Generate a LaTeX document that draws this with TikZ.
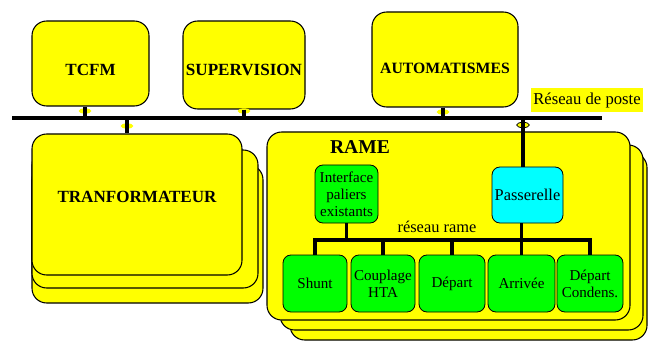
\documentclass[tikz,border=0pt]{standalone}
\usepackage{fontspec}
\setmainfont{Liberation Serif}
\usetikzlibrary{shapes.geometric}
\definecolor{boxyellow}{RGB}{255,255,0}
\definecolor{boxgreen}{RGB}{0,255,0}
\definecolor{boxcyan}{RGB}{0,255,255}

\begin{document}
\begin{tikzpicture}[x=0.75pt, y=-0.75pt,
    bigbox/.style={draw, line width=0.8pt, fill=boxyellow, rounded corners=11pt, inner sep=1pt,
        font=\bfseries\fontsize{12.8}{15}\selectfont},
    smallbox/.style={draw, line width=0.6pt, fill=boxgreen, rounded corners=6pt, align=center,
        inner sep=1pt, minimum height=42.75pt, font=\fontsize{11.3}{12.75}\selectfont},
    tap/.style={ellipse, fill=boxyellow, minimum width=9.5pt, minimum height=4pt, inner sep=0pt},
    bus/.style={line width=3.5pt},
    link/.style={line width=2.5pt},
    ]
    \useasboundingbox (0,0) rectangle (653,342);

    \node[bigbox, minimum width=87.75pt, minimum height=63.75pt, text height=17.8pt, text depth=0pt] (tcfm) at (90.5,63.5) {TCFM};
    \node[bigbox, minimum width=91.5pt, minimum height=66pt, text height=15.5pt, text depth=0pt] (super) at (244,65) {SUPERVISION};
    \node[bigbox, minimum width=109.5pt, minimum height=71.25pt, text height=21.5pt, text depth=0pt,
        font=\bfseries\fontsize{11.8}{14}\selectfont] (auto) at (445,59.5) {AUTOMATISMES};

    \node[bigbox, minimum width=173.25pt, minimum height=103.5pt] (transfo-b2) at (147.5,234) {};
    \node[bigbox, minimum width=169.5pt, minimum height=103.5pt] (transfo-b1) at (145,219) {};
    \node[bigbox, minimum width=157.5pt, minimum height=105.75pt, text height=8pt, text depth=11.2pt] (transfo) at (137,204.5) {TRANFORMATEUR};

    \node[bigbox, minimum width=267.75pt, minimum height=140.25pt] (rame-b2) at (468.5,246.5) {};
    \node[bigbox, minimum width=272.25pt, minimum height=138.75pt] (rame-b1) at (461.5,237.5) {};
    \node[bigbox, minimum width=272.25pt, minimum height=141pt] (rame) at (448.5,226) {};
    \node[font=\bfseries\fontsize{14.7}{17}\selectfont] (rame-title) at (360,147) {RAME};

    \node[smallbox, minimum width=47.25pt, minimum height=43.5pt] (iface) at (346.5,194) {Interface\\paliers\\existants};
    \node[smallbox, fill=boxcyan, minimum width=53.25pt, minimum height=42pt,
        font=\fontsize{12.3}{14}\selectfont] (pass) at (527.5,195) {Passerelle};
    \node[font=\fontsize{12.3}{14}\selectfont] (rr-label) at (437,227) {réseau rame};

    \node[smallbox, minimum width=48pt] (shunt) at (315,283.5) {Shunt};
    \node[smallbox, minimum width=48pt] (coupl) at (383,283.5) {Couplage\\HTA};
    \node[smallbox, minimum width=49.5pt] (depart) at (452,283.5) {Départ};
    \node[smallbox, minimum width=50.25pt] (arriv) at (521.5,283.5) {Arrivée};
    \node[smallbox, minimum width=49.5pt] (cond) at (590,283.5) {Départ\\Condens.};

    \node[fill=boxyellow, minimum width=84pt, minimum height=18pt, inner sep=1pt,
        font=\fontsize{12.5}{14}\selectfont] (poste-label) at (587,100) {Réseau de poste};

    \coordinate (poste-w) at (12,118);
    \coordinate (poste-e) at (602,118);
    \coordinate (rr) at (0,240);

    \node[tap] (tap-tcfm) at (85,111) {};
    \node[tap] (tap-super) at (244,111) {};
    \node[tap] (tap-auto) at (443,112) {};
    \node[tap] (tap-transfo) at (127,126) {};
    \node[tap, draw, line width=0.6pt] (tap-pass) at (523,125) {};

    \draw[bus] (poste-w) -- (poste-e);
    \draw[link]
        (tap-tcfm |- tcfm.south) -- (tap-tcfm |- poste-w)
        (tap-super |- super.south) -- (tap-super |- poste-w)
        (tap-auto |- auto.south) -- (tap-auto |- poste-w)
        (tap-transfo |- poste-w) -- (tap-transfo |- transfo.north)
        (tap-pass |- poste-w) -- (tap-pass |- pass.north)
        ;

    \draw[link]
        (shunt.north) -- (shunt.north |- rr) -- (cond.north |- rr) -- (cond.north)
        (coupl.north) -- (coupl.north |- rr)
        (depart.north) -- (depart.north |- rr)
        (arriv.north) -- (arriv.north |- pass.south)
        (iface.south) -- (iface.south |- rr)
        ;
\end{tikzpicture}
\end{document}
